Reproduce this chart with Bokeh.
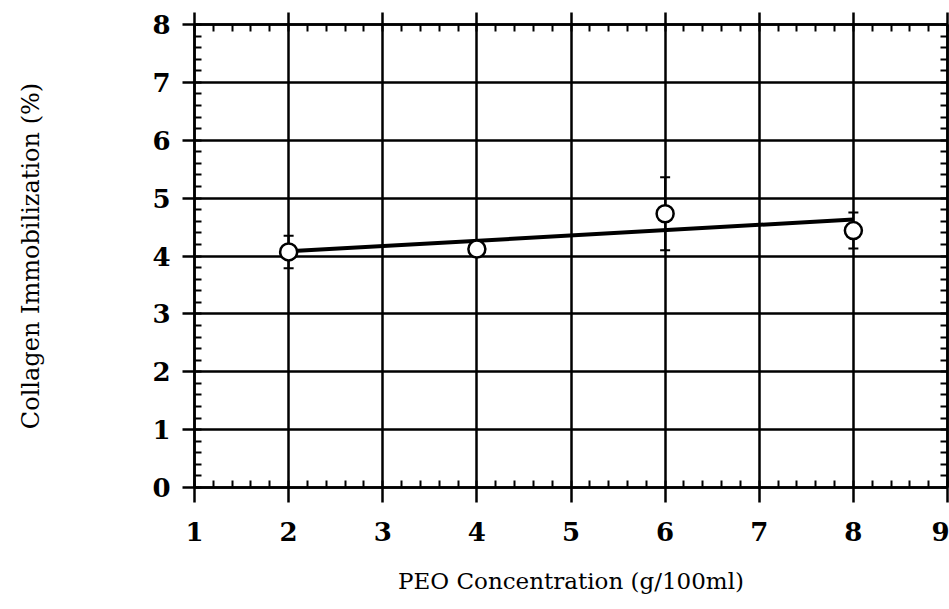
from bokeh.plotting import figure
from bokeh.models import (LinearAxis, SingleIntervalTicker, ColumnDataSource,
                          Whisker, TeeHead)
from bokeh.embed import file_html
from bokeh.resources import INLINE

# ---- data ----
peo_conc = [2, 4, 6, 8]
immobilization = [4.07, 4.12, 4.73, 4.44]
error = [0.28, 0.10, 0.63, 0.31]
fit_x = [2, 8]
fit_y = [4.08, 4.63]
x_ticks_range = (1, 9)
y_ticks_range = (0, 8)

x_label = "PEO Concentration (g/100ml)"
y_label = "Collagen Immobilization (%)"

FONT = "DejaVu Serif"

p = figure(width=949, height=609, x_range=x_ticks_range, y_range=y_ticks_range,
           output_backend="svg", toolbar_location=None,
           min_border_left=194, min_border_right=2,
           min_border_top=24, min_border_bottom=122,
           x_axis_location=None, y_axis_location=None)
p.background_fill_color = "white"
p.border_fill_color = "white"
p.outline_line_color = "black"
p.outline_line_width = 2.5


def make_axis(tick_out, show_labels):
    ax = LinearAxis(ticker=SingleIntervalTicker(interval=1, num_minor_ticks=5))
    ax.axis_line_color = "black"
    ax.axis_line_width = 2.5
    ax.major_tick_line_color = "black"
    ax.major_tick_line_width = 2.5
    ax.major_tick_in = 0
    ax.major_tick_out = tick_out
    ax.minor_tick_line_color = "black"
    ax.minor_tick_line_width = 2
    ax.minor_tick_in = 7
    ax.minor_tick_out = 0
    if show_labels:
        ax.major_label_text_font = FONT
        ax.major_label_text_font_style = "bold"
        ax.major_label_text_font_size = "26px"
        ax.major_label_text_color = "black"
        ax.axis_label_text_font = FONT
        ax.axis_label_text_font_style = "normal"
        ax.axis_label_text_font_size = "23px"
        ax.axis_label_text_color = "black"
    else:
        ax.major_label_text_font_size = "1px"
        ax.major_label_text_color = None
        ax.major_label_standoff = 0
    return ax


bottom = make_axis(15, True)
bottom.axis_label = x_label
bottom.major_label_standoff = 19
bottom.axis_label_standoff = 24
p.add_layout(bottom, "below")

left = make_axis(12, True)
left.axis_label = y_label
left.axis_label_text_font_size = "24px"
left.major_label_standoff = 12
left.axis_label_standoff = 104
p.add_layout(left, "left")

top = make_axis(12, False)
p.add_layout(top, "above")

right = make_axis(0, False)
p.add_layout(right, "right")

p.xgrid.ticker = SingleIntervalTicker(interval=1)
p.ygrid.ticker = SingleIntervalTicker(interval=1)
for g in (p.xgrid, p.ygrid):
    g.grid_line_color = "black"
    g.grid_line_width = 2.5
    g.grid_line_alpha = 1

src = ColumnDataSource(dict(
    x=peo_conc, y=immobilization,
    upper=[v + e for v, e in zip(immobilization, error)],
    lower=[v - e for v, e in zip(immobilization, error)],
))

wh = Whisker(base="x", upper="upper", lower="lower", source=src,
             line_color="black", line_width=2, level="underlay",
             upper_head=TeeHead(size=10, line_width=2, line_color="black"),
             lower_head=TeeHead(size=10, line_width=2, line_color="black"))
p.add_layout(wh)

p.line(fit_x, fit_y, line_color="black", line_width=4)
p.scatter("x", "y", source=src, size=17, marker="circle",
          fill_color="white", line_color="black", line_width=2.5)

open("out.html", "w").write(file_html(p, INLINE))
